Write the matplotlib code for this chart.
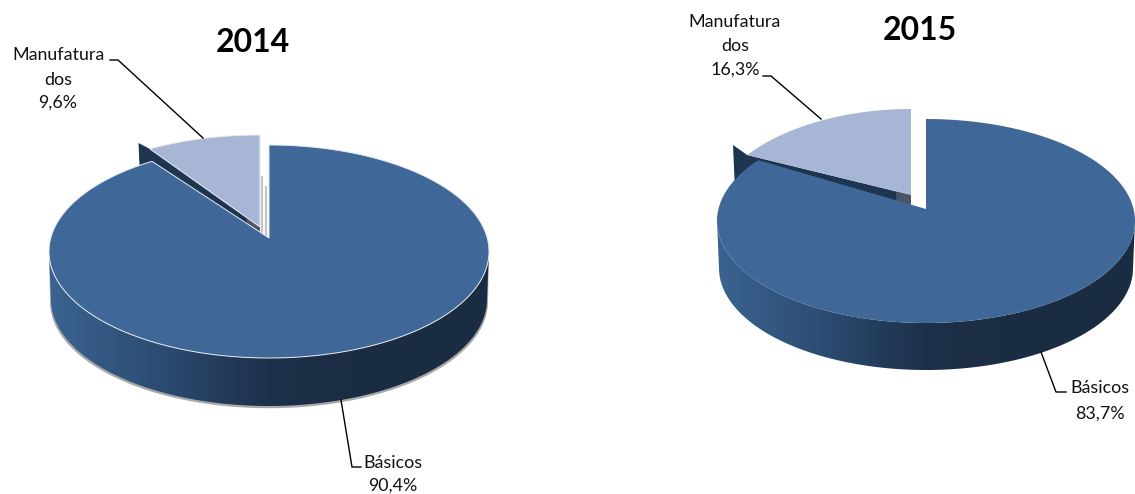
import numpy as np
import matplotlib
matplotlib.use("Agg")
import matplotlib.pyplot as plt
from matplotlib.patches import Polygon
from matplotlib.colors import LinearSegmentedColormap

# values
categories = ["Básicos", "Manufatura\ndos"]
shares_2014 = [90.4, 9.6]
shares_2015 = [83.7, 16.3]

plt.rcParams["font.family"] = ["Lato", "DejaVu Sans"]

TOP_BLUE = "#3f6899"
LIGHT = "#a7b6d5"
DARK = "#1e3550"
GREY = "#4b5566"
wall_cmap = LinearSegmentedColormap.from_list("wall", ["#3b6391", "#2c4c72", "#1d3049", "#1a2c42", "#1a2c42"])


def arc(cx, cy, rx, ry, a0, a1, n=200):
    # angles measured clockwise from 12 o'clock, pixel y grows downward
    t = np.radians(np.linspace(a0, a1, n))
    return np.column_stack([cx + rx * np.sin(t), cy - ry * np.cos(t)])


def draw_pie(ax, shares, g):
    cx, cy, rx, ry = g["cx"], g["cy"], g["rx"], g["ry"]
    sweep = shares[1] * 3.6 * g["sweep_scale"]
    split = 360 - sweep
    ax_, ay_ = g["apex"]
    lx, ly = g["light_apex"]

    # cut face of the pulled-out slice, main pie covers most of it
    lcx, lcy, lrx, lry = g["light"]
    light_arc = arc(lcx, lcy, lrx, lry, split, 360)
    left = light_arc[0]
    tx, ty = g["wall_tip"]
    ax.add_patch(Polygon([(tx, ty), left, (lx, ly), (lx, ly + 14), (tx + 2, ty + 45)],
                         closed=True, fc=DARK, ec="none", zorder=2))
    gx = lx + g["grey_w"] * (left[0] - lx)
    gy = ly + g["grey_w"] * (left[1] - ly)
    ax.add_patch(Polygon([(gx, gy), (lx, ly), (lx, ly + 14), (gx, gy + 14)],
                         closed=True, fc=GREY, ec="none", zorder=2.1))
    ax.add_patch(Polygon(np.vstack([[(lx, ly)], light_arc]), closed=True, fc=LIGHT,
                         ec=g["edge"], lw=0.7, zorder=3))

    # side wall with left to right gradient
    upper = arc(cx, cy, rx, ry, 90, 270)
    lower = arc(cx, cy + g["depth"], rx - g["inset"], ry, 270, 90)
    outline = np.vstack([upper, lower])
    if g["shadow"]:
        shadow = arc(cx, cy + g["depth"] + 2.2, rx - g["inset"] + 1, ry, 90, 270)
        ax.add_patch(Polygon(np.vstack([shadow, upper[::-1]]), closed=True, fc="#a8a8a8", ec="none", zorder=3.5))
    im = ax.imshow(np.linspace(0, 1, 256).reshape(1, -1), cmap=wall_cmap, aspect="auto",
                   extent=(cx - rx, cx + rx, cy + g["depth"] + ry + 2, cy - 5), zorder=4)
    im.set_clip_path(Polygon(outline, closed=True, transform=ax.transData))

    # top face
    top = np.vstack([[(ax_, ay_)], arc(cx, cy, rx, ry, 0, split, 400)])
    ax.add_patch(Polygon(top, closed=True, fc=TOP_BLUE, ec=g["edge"], lw=0.7, zorder=5))

    for (x0, y0, y1) in g["slivers"]:
        ax.plot([x0, x0], [y0, y1], color="#c4c4c4", lw=1.6, zorder=2.5, solid_capstyle="butt")


def pct(v):
    return f"{v:.1f}%".replace(".", ",")


def label(ax, x, ys, lines):
    for y, line in zip(ys, lines):
        ax.text(x, y, line, ha="center", va="center", color="#111111", fontsize=12.9)


fig = plt.figure(figsize=(11.35, 4.94), dpi=100)
ax = fig.add_axes([0, 0, 1, 1])

geom_2014 = dict(cx=269, cy=251.5, rx=220, ry=106.5, depth=48, inset=2, apex=(269, 238),
                 light=(260, 226, 207, 91), light_apex=(260, 227), wall_tip=(138.5, 143), grey_w=0.12,
                 sweep_scale=0.93, edge="#e6ebf2", shadow=True,
                 slivers=[(262, 176, 234), (266, 186, 236)])
geom_2015 = dict(cx=926, cy=221, rx=209, ry=102, depth=47, inset=2, apex=(926, 209),
                 light=(911, 223, 204, 114), light_apex=(911, 195), wall_tip=(733, 145), grey_w=0.09,
                 sweep_scale=0.91, edge="none", shadow=False, slivers=[])

draw_pie(ax, shares_2014, geom_2014)
draw_pie(ax, shares_2015, geom_2015)

ax.set_xlim(0, 1135)
ax.set_ylim(494, 0)
ax.axis("off")

# titles
ax.text(253, 43, "2014", ha="center", va="center", fontsize=23, fontweight="bold", color="black")
ax.text(920, 30, "2015", ha="center", va="center", fontsize=23, fontweight="bold", color="black")

# data labels
manuf = categories[1].split("\n")
label(ax, 58, [55, 80, 103], manuf + [pct(shares_2014[1])])
label(ax, 735, [22, 46, 70], manuf + [pct(shares_2015[1])])
label(ax, 393, [463, 486], [categories[0], pct(shares_2014[0])])
label(ax, 1100, [388, 414], [categories[0], pct(shares_2015[0])])

# leader lines
for xs, ys in [([110, 118, 203], [60, 60, 138]),
               ([341, 352, 361], [400, 467, 467]),
               ([763, 771, 821], [76, 76, 119]),
               ([1041, 1056, 1066], [352, 392, 392])]:
    ax.plot(xs, ys, color="black", lw=1, zorder=6)

fig.savefig("out.png", dpi=100)
